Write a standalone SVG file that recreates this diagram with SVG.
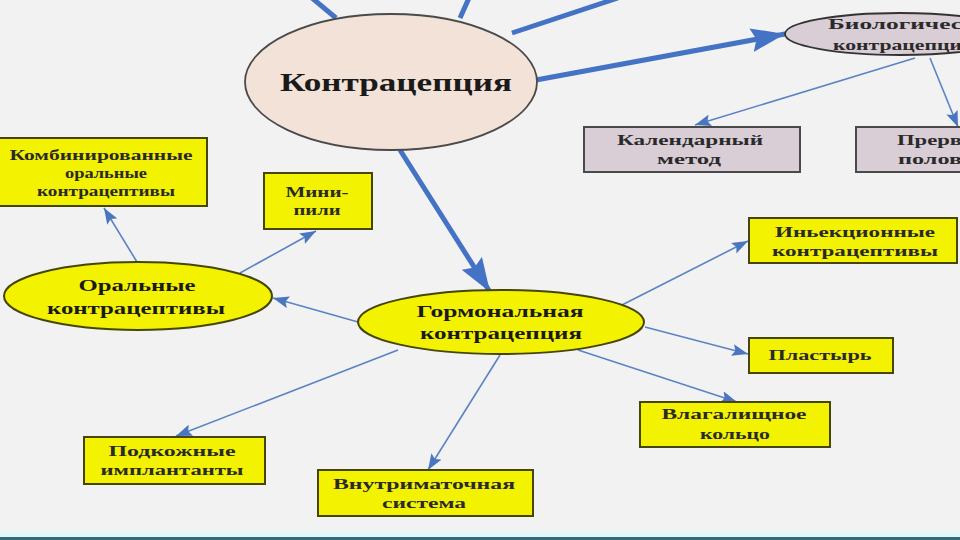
<svg xmlns="http://www.w3.org/2000/svg" width="960" height="540" viewBox="0 0 960 540">
<defs>
<style>
.bg{fill:#f2f2f2}
.box{fill:#f3f200;stroke:#45450c;stroke-width:2}
.pbox{fill:#d9cdd6;stroke:#4a4a4a;stroke-width:2}
.yell{fill:#f3f200;stroke:#45450c;stroke-width:2}
.t{font-family:"Liberation Serif","DejaVu Serif",serif;font-size:15px;fill:#2a2a2a;text-anchor:middle;font-weight:bold}
.tb{font-family:"Liberation Serif","DejaVu Serif",serif;font-size:16px;fill:#1a1a1a;text-anchor:middle;font-weight:bold}
.ts{font-family:"Liberation Serif","DejaVu Serif",serif;font-size:15px;fill:#2a2a2a;font-weight:bold}
.thin{stroke:#5b83c4;stroke-width:1.6;fill:none;marker-end:url(#ah)}
.thick{stroke:#4472c4;stroke-width:5;fill:none}
</style>
<marker id="ah" markerWidth="16" markerHeight="12" refX="16" refY="6" orient="auto" markerUnits="userSpaceOnUse"><path d="M0,0 L16,6 L0,12 L3,6 z" fill="#4a76bf"/></marker>
<marker id="ahb" markerWidth="34" markerHeight="24" refX="34" refY="12" orient="auto" markerUnits="userSpaceOnUse"><path d="M0,0 L34,12 L0,24 L5,12 z" fill="#4472c4"/></marker>
</defs>
<rect class="bg" x="0" y="0" width="960" height="540"/>
<rect x="0" y="531" width="960" height="6" fill="#e2f5f9"/>
<rect x="0" y="537" width="960" height="3" fill="#2f6b78"/>

<g id="connectors">
<line class="thick" x1="336" y1="18" x2="312" y2="-2"/>
<line class="thick" x1="460" y1="18" x2="469" y2="-2"/>
<line class="thick" x1="512" y1="33" x2="618" y2="-2"/>
<line class="thick" x1="536" y1="80" x2="785" y2="34" marker-end="url(#ahb)"/>
<line class="thick" x1="400" y1="150" x2="490" y2="292" marker-end="url(#ahb)"/>
<line class="thin" x1="137" y1="262" x2="104" y2="208"/>
<line class="thin" x1="240" y1="273" x2="316" y2="231"/>
<line class="thin" x1="358" y1="322" x2="273" y2="298"/>
<line class="thin" x1="618" y1="307" x2="748" y2="241"/>
<line class="thin" x1="645" y1="327" x2="748" y2="354"/>
<line class="thin" x1="578" y1="350" x2="737" y2="402"/>
<line class="thin" x1="500" y1="355" x2="428" y2="470"/>
<line class="thin" x1="398" y1="350" x2="176" y2="436"/>
<line class="thin" x1="915" y1="58" x2="695" y2="125"/>
<line class="thin" x1="930" y1="58" x2="958" y2="127"/>
</g>

<g id="kontracepciya">
<ellipse cx="391" cy="82" rx="146" ry="68" fill="#f2e2d8" stroke="#4a4a4a" stroke-width="1.8"/>
<text x="396" y="91" font-family="Liberation Serif, DejaVu Serif, serif" font-size="26" font-weight="bold" fill="#1a1a1a" text-anchor="middle" textLength="232" lengthAdjust="spacingAndGlyphs">Контрацепция</text>
</g>

<g id="biologicheskaya">
<ellipse cx="900" cy="34" rx="115" ry="21" fill="#d9cdd6" stroke="#333" stroke-width="1.8"/>
<text class="ts" x="828" y="29" textLength="134" lengthAdjust="spacingAndGlyphs">Биологичес</text>
<text class="ts" x="833" y="50" textLength="129" lengthAdjust="spacingAndGlyphs">контрацепци</text>
</g>

<g id="kalendarnyi">
<rect class="pbox" x="584" y="127" width="216" height="45"/>
<text class="t" x="690" y="145" textLength="146" lengthAdjust="spacingAndGlyphs">Календарный</text>
<text class="t" x="689" y="164" textLength="64" lengthAdjust="spacingAndGlyphs">метод</text>
</g>

<g id="prervannyi">
<rect class="pbox" x="856" y="127" width="120" height="45"/>
<text class="ts" x="897" y="145" textLength="65" lengthAdjust="spacingAndGlyphs">Прерв</text>
<text class="ts" x="898" y="164" textLength="64" lengthAdjust="spacingAndGlyphs">полов</text>
</g>

<g id="kombinirovannye">
<rect class="box" x="-2" y="138" width="209" height="68"/>
<text class="t" x="101" y="160" textLength="183" lengthAdjust="spacingAndGlyphs">Комбинированные</text>
<text class="t" x="106" y="178" textLength="82" lengthAdjust="spacingAndGlyphs">оральные</text>
<text class="t" x="106" y="196" textLength="138" lengthAdjust="spacingAndGlyphs">контрацептивы</text>
</g>

<g id="mini-pili">
<rect class="box" x="264" y="173" width="108" height="56"/>
<text class="t" x="317" y="197" textLength="63" lengthAdjust="spacingAndGlyphs">Мини-</text>
<text class="t" x="317" y="215" textLength="47" lengthAdjust="spacingAndGlyphs">пили</text>
</g>

<g id="oralnye">
<ellipse class="yell" cx="138" cy="296" rx="134" ry="34"/>
<text class="tb" x="137" y="291" textLength="117" lengthAdjust="spacingAndGlyphs">Оральные</text>
<text class="tb" x="136" y="314" textLength="178" lengthAdjust="spacingAndGlyphs">контрацептивы</text>
</g>

<g id="gormonalnaya">
<ellipse class="yell" cx="501" cy="322" rx="143" ry="32"/>
<text class="tb" x="500" y="317" textLength="167" lengthAdjust="spacingAndGlyphs">Гормональная</text>
<text class="tb" x="501" y="339" textLength="162" lengthAdjust="spacingAndGlyphs">контрацепция</text>
</g>

<g id="inekcionnye">
<rect class="box" x="749" y="218" width="208" height="45"/>
<text class="t" x="855" y="237" textLength="160" lengthAdjust="spacingAndGlyphs">Иньекционные</text>
<text class="t" x="855" y="256" textLength="166" lengthAdjust="spacingAndGlyphs">контрацептивы</text>
</g>

<g id="plastyr">
<rect class="box" x="749" y="338" width="144" height="35"/>
<text class="t" x="820" y="360" textLength="103" lengthAdjust="spacingAndGlyphs">Пластырь</text>
</g>

<g id="vlagalishnoe">
<rect class="box" x="640" y="402" width="190" height="45"/>
<text class="t" x="734" y="419" textLength="145" lengthAdjust="spacingAndGlyphs">Влагалищное</text>
<text class="t" x="735" y="439" textLength="70" lengthAdjust="spacingAndGlyphs">кольцо</text>
</g>

<g id="vnutrimatochnaya">
<rect class="box" x="318" y="470" width="215" height="46"/>
<text class="t" x="424" y="489" textLength="182" lengthAdjust="spacingAndGlyphs">Внутриматочная</text>
<text class="t" x="424" y="508" textLength="84" lengthAdjust="spacingAndGlyphs">система</text>
</g>

<g id="podkozhnye">
<rect class="box" x="84" y="437" width="181" height="47"/>
<text class="t" x="172" y="456" textLength="127" lengthAdjust="spacingAndGlyphs">Подкожные</text>
<text class="t" x="172" y="475" textLength="143" lengthAdjust="spacingAndGlyphs">имплантанты</text>
</g>
</svg>
